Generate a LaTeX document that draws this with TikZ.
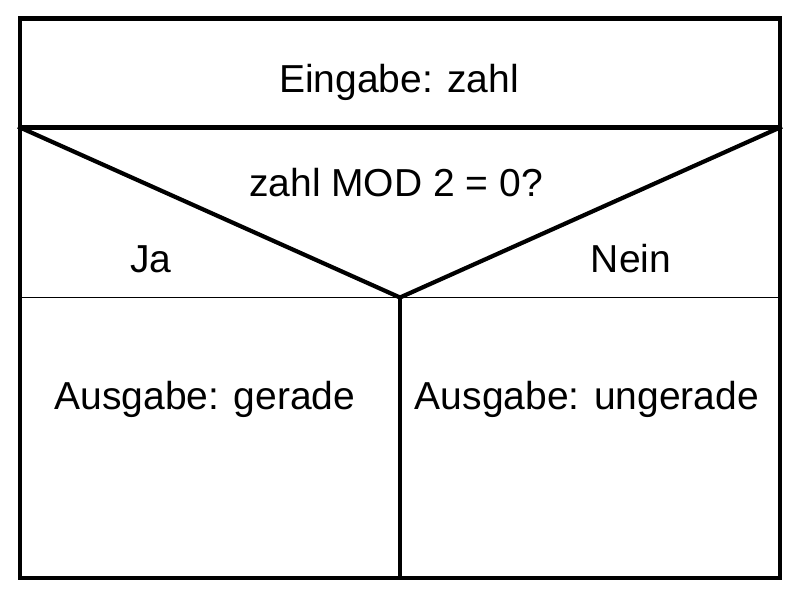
\documentclass[tikz,border=0pt]{standalone}
\usepackage{fontspec}
\setmainfont{Liberation Sans}
\begin{document}
\begin{tikzpicture}[x=1pt,y=1pt,
  lbl/.style={inner sep=0pt,anchor=base,font=\fontsize{39}{46}\selectfont},
  thickline/.style={line width=4.2pt,line cap=rect},
  thinline/.style={line width=1.3pt}]
\useasboundingbox[fill=white] (0,0) rectangle (800,597);
\coordinate (tl) at (20,578.5);
\coordinate (tr) at (780,578.5);
\coordinate (bl) at (20,19);
\coordinate (br) at (780,19);
\coordinate (ml) at (20,469.5);
\coordinate (mr) at (780,469.5);
\coordinate (cl) at (20,299.5);
\coordinate (cr) at (780,299.5);
\coordinate (tip) at (400,299.5);
\coordinate (bot) at (400,19);
\draw[thinline] (cl) -- (cr);
\draw[thickline] (tl) rectangle (br);
\draw[thickline] (ml) -- (mr);
\draw[thickline,line join=miter] (ml) -- (tip) -- (mr);
\draw[thickline] (tip) -- (bot);
\node[lbl] (in) at (399,504) {Eingabe: zahl};
\node[lbl] (cond) at (396,400) {zahl MOD 2 = 0?};
\node[lbl] (ja) at (151,324) {Ja};
\node[lbl] (nein) at (631,324) {Nein};
\node[lbl] (even) at (205,187) {Ausgabe: gerade};
\node[lbl] (odd) at (587,187) {Ausgabe: ungerade};
\end{tikzpicture}
\end{document}
